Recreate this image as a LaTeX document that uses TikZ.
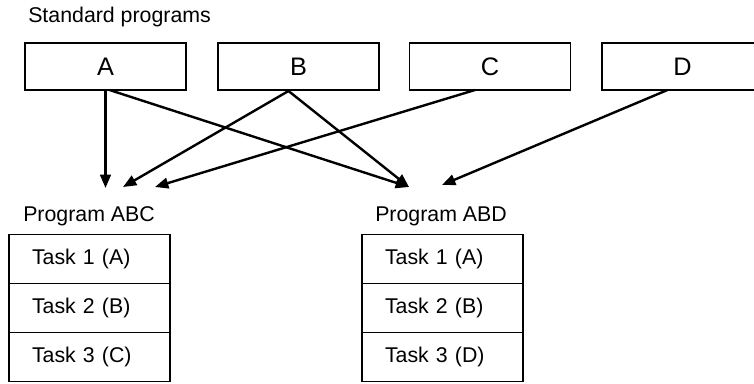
\documentclass[tikz,border=0pt]{standalone}
\usepackage{fontspec}
\setmainfont{Liberation Sans}
\usetikzlibrary{arrows.meta,positioning,calc}

\tikzset{
    stdbox/.style={draw, line width=1pt, minimum width=120.75pt,
        minimum height=35.25pt, outer sep=0pt,
        font=\fontsize{19}{22}\selectfont},
    taskrow/.style={draw, line width=1pt, text width=86.25pt,
        inner xsep=17.25pt, minimum height=36.75pt, outer sep=0pt,
        align=left},
    link/.style={-{Triangle[length=10pt,width=8pt]}, line width=1.8pt}
}

\begin{document}
\begin{tikzpicture}[
    x=0.75pt, y=-0.75pt,
    font=\fontsize{16}{19}\selectfont
]
\useasboundingbox (0,0) rectangle (754,384);

% Standard programs
\node[anchor=base west, inner sep=0pt] (stdlabel) at (28,23) {Standard programs};
\node[stdbox] (A) at (105.5,66.5) {A};
\node[stdbox] (B) at (298.5,66.5) {B};
\node[stdbox] (C) at (490,66.5) {C};
\node[stdbox] (D) at (682.5,66.5) {D};

% Program ABC
\node[anchor=base west, inner sep=0pt] (abclabel) at (23,222) {Program ABC};
\node[taskrow] (abc1) at (89.5,259) {Task 1 (A)};
\node[taskrow, below=0pt of abc1] (abc2) {Task 2 (B)};
\node[taskrow, below=0pt of abc2] (abc3) {Task 3 (C)};

% Program ABD
\node[anchor=base west, inner sep=0pt] (abdlabel) at (375,222) {Program ABD};
\node[taskrow] (abd1) at (442.5,259) {Task 1 (A)};
\node[taskrow, below=0pt of abd1] (abd2) {Task 2 (B)};
\node[taskrow, below=0pt of abd2] (abd3) {Task 3 (D)};

% Arrow ends
\coordinate (inABC1) at (105.5,188);
\coordinate (inABC2) at (123,187);
\coordinate (inABC3) at (155,187);
\coordinate (inABD1) at (409,187);
\coordinate (inABD2) at (442,185);

% Arrows
\draw[link] (A.south) -- (inABC1);
\draw[link] ($(A.south)+(4,0)$) -- (inABD1);
\draw[link] ($(B.south)+(-10,1)$) -- (inABC2);
\draw[link] ($(B.south)+(-10,1)$) -- (inABD1);
\draw[link] ($(C.south)+(-15,0)$) -- (inABC3);
\draw[link] ($(D.south)+(-15,0)$) -- (inABD2);

\end{tikzpicture}
\end{document}
